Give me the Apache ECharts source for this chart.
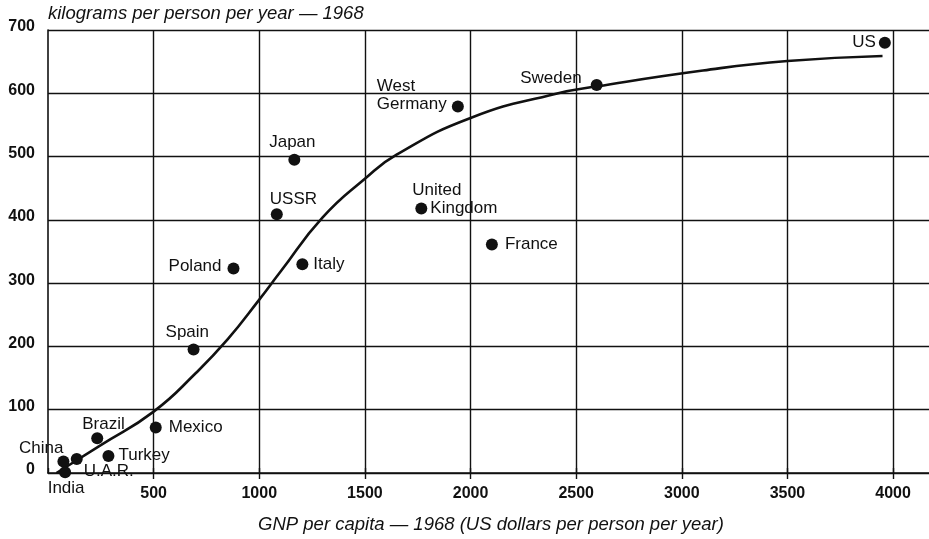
<!DOCTYPE html>
<html>
<head>
<meta charset="utf-8">
<script src="https://cdn.jsdelivr.net/npm/echarts@6/dist/echarts.min.js"></script>
<style>
html,body{margin:0;padding:0;background:#fff;}
#chart{width:929px;height:539px;}
</style>
</head>
<body>
<div id="chart"></div>
<script>
// ---- data ----
const countries = ['US','Sweden','West Germany','Japan','USSR','United Kingdom','France','Italy','Poland','Spain','Mexico','Brazil','Turkey','China','U.A.R.','India'];
const gnpPerCapita = [3961, 2597, 1940, 1166, 1083, 1767, 2101, 1204, 878, 689, 510, 233, 286, 73, 136, 81];
const steelKg = [680, 613, 579, 495, 409, 418, 361, 330, 323, 195, 72, 55, 27, 18, 22, 1];

// trend curve
const curveGnp = [40, 250, 500, 700, 850, 1000, 1100, 1300, 1500, 1650, 2000, 2400, 2600, 3100, 3500, 3950];
const curveSteel = [0, 44, 97, 158, 211, 274, 318, 404, 465, 503, 561, 599, 611, 636, 651, 659];

const xTicks = [500, 1000, 1500, 2000, 2500, 3000, 3500, 4000];
const yTicks = [0, 100, 200, 300, 400, 500, 600, 700];

const yTitle = 'kilograms per person per year — 1968';
const xTitle = 'GNP per capita — 1968 (US dollars per person per year)';

// ---- label placement (styling only) ----
const labelPlace = {
  'US':             {align:'right',  off:[-9, 0]},
  'Sweden':         {align:'right',  off:[-15, -7]},
  'West Germany':   {align:'left',   off:[-81, -11], fmt:'West\nGermany'},
  'Japan':          {align:'center', off:[-2, -17]},
  'USSR':           {align:'left',   off:[-7, -15]},
  'United Kingdom': {align:'left',   off:[-9, -9], fmt:'{a|United}\n{b|Kingdom}'},
  'France':         {align:'left',   off:[13, 0]},
  'Italy':          {align:'left',   off:[11, 0]},
  'Poland':         {align:'right',  off:[-12, -2]},
  'Spain':          {align:'left',   off:[-28, -17]},
  'Mexico':         {align:'left',   off:[13, 0]},
  'Brazil':         {align:'left',   off:[-15, -14]},
  'Turkey':         {align:'left',   off:[10, -1]},
  'China':          {align:'right',  off:[0, -13]},
  'U.A.R.':         {align:'left',   off:[7, 12]},
  'India':          {align:'center', off:[1, 16]}
};

const FONT = 'Liberation Sans, Arial, Helvetica, sans-serif';
const INK = '#111';
const LABEL_SIZE = 17;

const scatterData = countries.map((c, i) => {
  const p = labelPlace[c];
  return {
    name: c,
    value: [gnpPerCapita[i], steelKg[i]],
    label: {
      show: true,
      position: 'inside',
      align: p.align,
      verticalAlign: 'middle',
      offset: p.off,
      formatter: p.fmt || c,
      color: INK,
      opacity: 1,
      fontFamily: FONT,
      fontSize: LABEL_SIZE,
      lineHeight: 18,
      rich: {
        a: {color: INK, fontFamily: FONT, fontSize: LABEL_SIZE, lineHeight: 18},
        b: {color: INK, fontFamily: FONT, fontSize: LABEL_SIZE, lineHeight: 18, padding: [0, 0, 0, 18]}
      }
    }
  };
});

const chart = echarts.init(document.getElementById('chart'), null, {renderer: 'canvas'});
const axisCommon = {
  type: 'value',
  min: 0,
  max: 4170,
  interval: 500
};
chart.setOption({
  animation: false,
  backgroundColor: '#fff',
  title: [
    {text: yTitle, left: 43, top: -1,
     textStyle: {fontFamily: FONT, fontSize: 18.5, fontStyle: 'italic', fontWeight: 'normal', color: INK}},
    {text: xTitle, left: 486, top: 510, textAlign: 'center',
     textStyle: {fontFamily: FONT, fontSize: 18.5, fontStyle: 'italic', fontWeight: 'normal', color: INK}}
  ],
  grid: {left: 48, right: 0, top: 30, bottom: 66, containLabel: false},
  xAxis: [
    Object.assign({}, axisCommon, {
      position: 'bottom',
      axisLine: {show: true, onZero: false, lineStyle: {color: INK, width: 1.6}},
      axisTick: {show: true, length: 6, inside: false, customValues: xTicks, lineStyle: {color: INK, width: 1.4}},
      splitLine: {show: true, lineStyle: {color: INK, width: 1.4}},
      axisLabel: {
        margin: 13, color: INK, fontFamily: FONT, fontSize: 16, fontWeight: 'bold',
        showMaxLabel: false,
        formatter: v => (xTicks.indexOf(v) >= 0 ? String(v) : '')
      }
    }),
    Object.assign({}, axisCommon, {
      position: 'top',
      axisLine: {show: false},
      axisTick: {show: true, length: 5, inside: false, customValues: [0].concat(xTicks), lineStyle: {color: INK, width: 1.4}},
      splitLine: {show: false},
      axisLabel: {show: false}
    })
  ],
  yAxis: {
    type: 'value',
    min: 0,
    max: 700,
    interval: 100,
    axisLine: {show: true, onZero: false, lineStyle: {color: INK, width: 1.6}},
    axisTick: {show: false},
    splitLine: {show: true, lineStyle: {color: INK, width: 1.4}},
    axisLabel: {
      margin: 13, color: INK, fontFamily: FONT, fontSize: 16, fontWeight: 'bold',
      verticalAlign: 'bottom', lineHeight: 6,
      formatter: v => (yTicks.indexOf(v) >= 0 ? String(v) : '')
    }
  },
  series: [
    {
      type: 'line',
      xAxisIndex: 0,
      data: curveGnp.map((x, i) => [x, curveSteel[i]]),
      smooth: 0.5,
      symbol: 'none',
      lineStyle: {color: INK, width: 2.6},
      z: 3,
      silent: true
    },
    {
      type: 'scatter',
      xAxisIndex: 0,
      data: scatterData,
      symbol: 'circle',
      symbolSize: 12,
      itemStyle: {color: INK, opacity: 1},
      clip: false,
      z: 4
    }
  ]
});
</script>
</body>
</html>
